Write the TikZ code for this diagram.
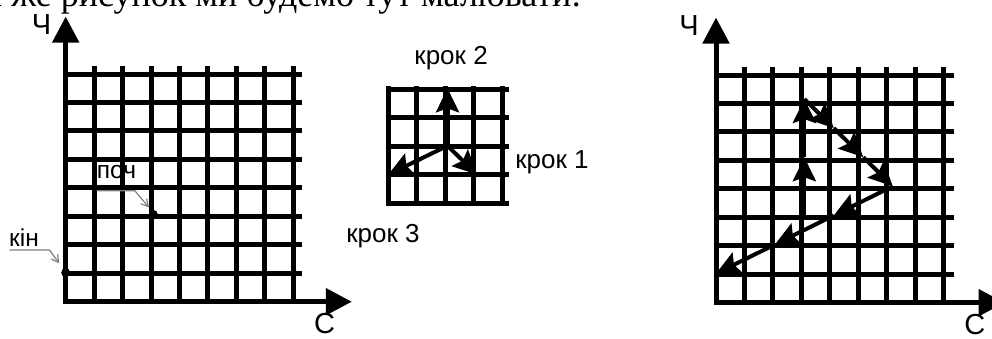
\documentclass[tikz,border=0pt]{standalone}
\usepackage{fontspec}
\setmainfont{Liberation Serif}
\newfontfamily\labelfont{Liberation Sans}
\usetikzlibrary{arrows.meta}

\tikzset{
    gridline/.style={line width=5pt, line cap=rect},
    axis/.style={line width=5pt, -{Triangle[length=26pt,width=26pt]}},
    move/.style={line width=4pt, -{Stealth[length=24pt,width=23pt,inset=4pt]}},
    pointer/.style={gray, line width=1.2pt, -{Straight Barb[length=7pt,width=8pt]}},
    dot/.style={circle, fill, inner sep=0pt, minimum size=9pt},
    axlabel/.style={font=\labelfont\fontsize{29}{32}\selectfont, inner sep=0pt},
    steplabel/.style={font=\labelfont\fontsize{26}{30}\selectfont, inner sep=0pt},
    marklabel/.style={font=\labelfont\fontsize{24.5}{28}\selectfont, inner sep=0pt}
}

\begin{document}
\begin{tikzpicture}[x=1pt, y=-1pt]
    \useasboundingbox (0,0) rectangle (992,338);

    % line of text cut by the top edge
    \begin{scope}
        \clip (0,0) rectangle (992,338);
        \node [anchor=base west, inner sep=0pt, font=\fontsize{36}{42}\selectfont] (caption) at (-17,6) {й же рисунок ми будемо тут малювати:};
    \end{scope}

    % left field
    \begin{scope}[shift={(65.7,301.7)}, x=29.2pt, y=29.1pt]
        \draw [gridline] (0,0) grid (8,8);
        \coordinate (ltop) at (0,8);
        \coordinate (lright) at (8,0);
        \coordinate (lytip) at (0,9.8);
        \coordinate (lxtip) at (9.8,0);
        \draw [axis] (ltop) -- (lytip);
        \draw [axis] (lright) -- (lxtip);
        \node [axlabel] (lch) at (-0.83,9.54) {Ч};
        \node [axlabel] (lc) at (8.87,-0.74) {С};

        \node [dot] (start) at (3,3) {};
        \node [dot] (finish) at (0,1) {};

        \node [marklabel] (poch) at (1.74,4.44) {поч};
        \coordinate (pochA) at (1.06,3.81);
        \coordinate (pochB) at (2.37,3.81);
        \coordinate (pochC) at (2.85,3.24);
        \draw [pointer] (pochA) -- (pochB) -- (pochC);

        \node [marklabel] (kin) at (-1.43,2.19) {кін};
        \coordinate (kinA) at (-1.93,1.78);
        \coordinate (kinB) at (-0.56,1.78);
        \coordinate (kinC) at (-0.22,1.32);
        \draw [pointer] (kinA) -- (kinB) -- (kinC);
    \end{scope}

    % the three steps
    \begin{scope}[shift={(388.3,203.3)}, x=29.6pt, y=28.75pt]
        \draw [gridline] (0,0) grid (4,4);
        \coordinate (m) at (2,2);
        \coordinate (m1) at (3,1);
        \coordinate (m2) at (2,4);
        \coordinate (m3) at (0,1);
        \draw [move] (m) -- (m1);
        \draw [move] (m) -- (m2);
        \draw [move] (m) -- (m3);
        \node [steplabel] (step2) at (2.12,5.05) {крок 2};
        \node [steplabel] (step1) at (5.53,1.44) {крок 1};
        \node [steplabel] (step3) at (-0.18,-1.14) {крок 3};
    \end{scope}

    % right field
    \begin{scope}[shift={(716,302.7)}, x=29.45pt, y=29.1pt]
        \draw [gridline] (0,0) grid (8,8);
        \coordinate (rtop) at (0,8);
        \coordinate (rright) at (8,0);
        \coordinate (rytip) at (0,9.8);
        \coordinate (rxtip) at (9.8,0);
        \draw [axis] (rtop) -- (rytip);
        \draw [axis] (rright) -- (rxtip);
        \node [axlabel] (rch) at (-0.92,9.54) {Ч};
        \node [axlabel] (rc) at (8.79,-0.76) {С};

        \coordinate (r33) at (3,3);
        \coordinate (r35) at (3,5);
        \coordinate (r37) at (3,7);
        \coordinate (r46) at (4,6);
        \coordinate (r55) at (5,5);
        \coordinate (r64) at (6,4);
        \coordinate (r43) at (4,3);
        \coordinate (r22) at (2,2);
        \coordinate (r01) at (0,1);
        \draw [move] (r33) -- (r35);
        \draw [move] (r35) -- (r37);
        \draw [move] (r37) -- (r46);
        \draw [move] (r46) -- (r55);
        \draw [move] (r55) -- (r64);
        \draw [move] (r64) -- (r43);
        \draw [move] (r43) -- (r22);
        \draw [move] (r22) -- (r01);
    \end{scope}
\end{tikzpicture}
\end{document}
